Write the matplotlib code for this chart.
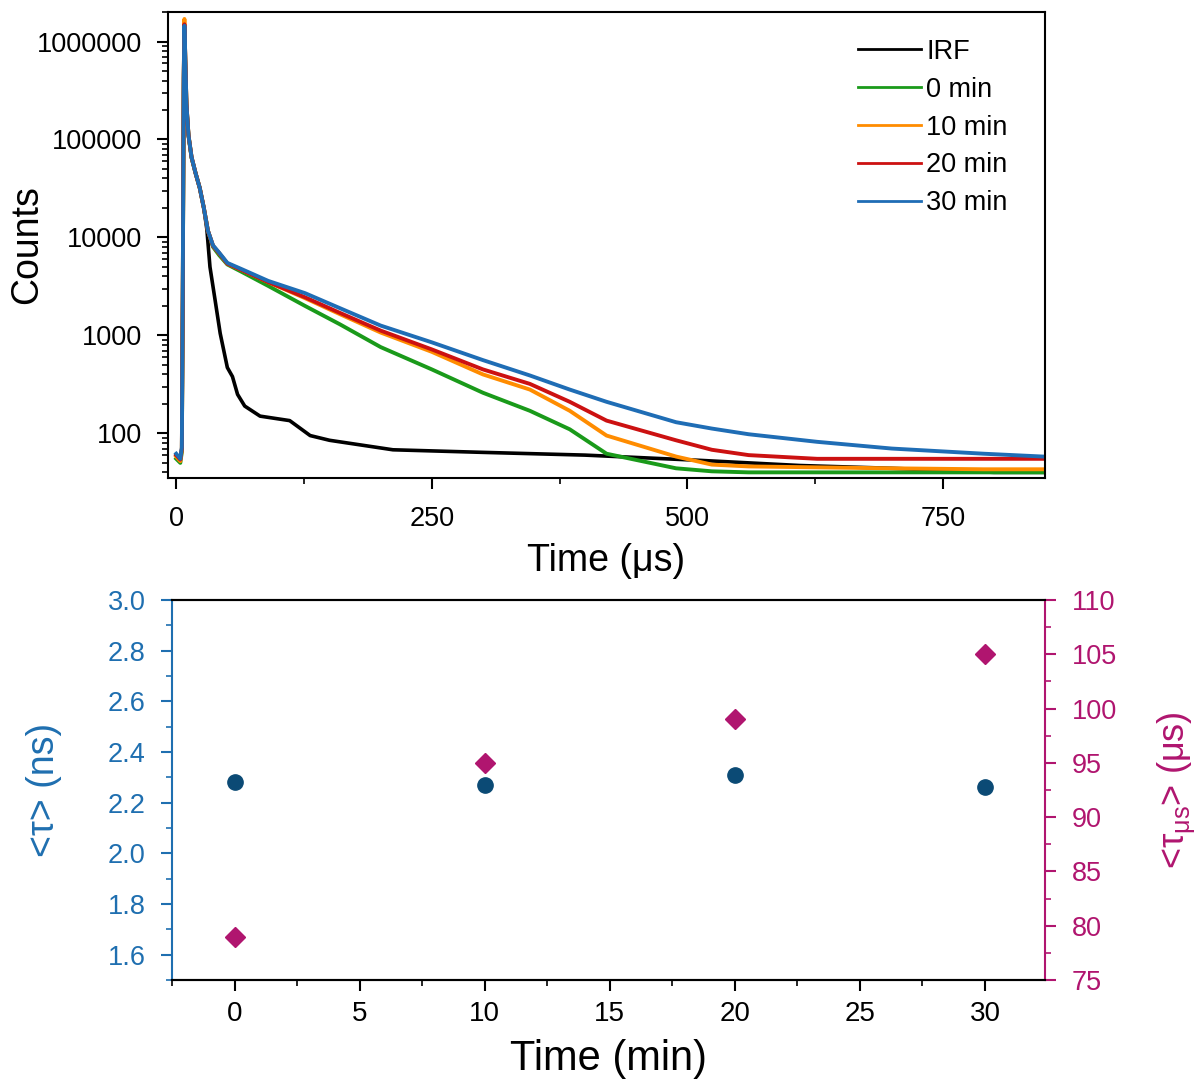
import matplotlib

matplotlib.use("Agg")
import matplotlib.pyplot as plt
from matplotlib import font_manager
from matplotlib.ticker import FixedLocator, LogLocator, MultipleLocator, NullFormatter

# Decay curves, values (time in µs, counts)
t_irf = [0, 4, 5.5, 6.5, 7.3, 8, 8.7, 10, 12, 15, 19, 23, 27, 30, 33, 38, 43, 50, 55, 60,
         67, 82, 111, 131, 150, 212, 300, 400, 513, 610, 700, 800, 848]
c_irf = [60, 55, 70, 3000, 3e5, 1.3e6, 7e5, 2.2e5, 1.1e5, 65000, 45000, 32000, 20000, 12000,
         5000, 2300, 1050, 470, 380, 250, 190, 150, 135, 95, 85, 68, 64, 60, 53, 47, 44, 40, 40]

t_dec = [0, 4, 5.5, 6.5, 7.3, 8, 8.7, 10, 12, 15, 19, 23, 27, 31, 36, 42, 50, 65, 90, 126,
         160, 200, 250, 300, 346, 385, 421, 489, 524, 560, 627, 700, 790, 848]
c_0min = [55, 50, 65, 4500, 3.8e5, 1.4e6, 7.5e5, 2.2e5, 1.1e5, 65000, 45000, 32000, 20000,
          11700, 8000, 6600, 5300, 4400, 3200, 2000, 1300, 760, 450, 260, 170, 110, 62, 44,
          41, 40, 40, 40, 40, 40]
c_10min = [58, 52, 68, 5000, 4.2e5, 1.7e6, 8e5, 2.3e5, 1.1e5, 66000, 45000, 32000, 20000,
           11700, 8200, 6900, 5400, 4600, 3500, 2400, 1650, 1070, 680, 400, 280, 170, 95, 58,
           48, 46, 45, 44, 43, 43]
c_20min = [60, 54, 70, 5000, 4.2e5, 1.5e6, 8e5, 2.3e5, 1.1e5, 66000, 45000, 32000, 20000,
           11700, 8200, 6900, 5400, 4600, 3500, 2450, 1700, 1120, 720, 450, 320, 210, 135, 85,
           68, 60, 55, 55, 55, 55]
c_30min = [62, 55, 72, 5200, 4.3e5, 1.45e6, 8e5, 2.3e5, 1.1e5, 66000, 45000, 32000, 20000,
           11700, 8300, 7000, 5500, 4700, 3600, 2700, 1900, 1260, 850, 560, 390, 280, 210,
           130, 112, 98, 82, 70, 62, 58]

# Average lifetimes vs irradiation time
t_min = [0, 10, 20, 30]
tau_ns = [2.28, 2.27, 2.31, 2.26]
tau_us = [79, 95, 99, 105]

names = {f.name for f in font_manager.fontManager.ttflist}
narrow = "Liberation Sans Narrow" if "Liberation Sans Narrow" in names else "Liberation Sans"

plt.rcParams["font.family"] = ["Liberation Sans", "DejaVu Sans"]
plt.rcParams["mathtext.fontset"] = "custom"
plt.rcParams["mathtext.rm"] = "Liberation Sans"
plt.rcParams["mathtext.it"] = "Liberation Sans:italic"
plt.rcParams["mathtext.default"] = "regular"

blue_ax = "#1f6fb0"
pink_ax = "#b0156f"

fig = plt.figure(figsize=(12.03, 10.84), dpi=100)

# ---- top panel: decay curves ----
ax1 = fig.add_axes([0.1397, 0.559, 0.729, 0.4299])
ax1.plot(t_irf, c_irf, color="black", lw=2.6, label="IRF")
ax1.plot(t_dec, c_0min, color="#1a9a1a", lw=2.8, label="0 min")
ax1.plot(t_dec, c_10min, color="#ff8c00", lw=2.8, label="10 min")
ax1.plot(t_dec, c_20min, color="#cc1111", lw=2.8, label="20 min")
ax1.plot(t_dec, c_30min, color="#1f6db5", lw=2.8, label="30 min")

ax1.set_yscale("log")
ax1.set_xlim(-8, 850)
ax1.set_ylim(35, 2e6)
ax1.yaxis.set_major_locator(FixedLocator([100, 1000, 10000, 100000, 1000000]))
ax1.set_yticklabels(["100", "1000", "10000", "100000", "1000000"])
ax1.yaxis.set_minor_locator(LogLocator(base=10, subs=range(2, 10), numticks=20))
ax1.yaxis.set_minor_formatter(NullFormatter())
ax1.xaxis.set_major_locator(MultipleLocator(250))
ax1.xaxis.set_minor_locator(MultipleLocator(125))
ax1.tick_params(which="major", direction="out", length=8, width=1.5, labelsize=19.5)
ax1.tick_params(which="minor", direction="out", length=4.5, width=1.2)
ax1.tick_params(axis="x", which="major", pad=12)
ax1.tick_params(axis="y", which="major", pad=11)
for s in ax1.spines.values():
    s.set_linewidth(1.5)
ax1.set_xlabel("Time (μs)", fontsize=27, labelpad=8)
ax1.set_ylabel("Counts", fontsize=27)
ax1.yaxis.set_label_coords(-0.14, 0.5)
leg = ax1.legend(loc="upper right", bbox_to_anchor=(0.985, 0.995), frameon=False, fontsize=19.5,
                 handlelength=2.3, handletextpad=0.2, labelspacing=0.44)
for line in leg.get_lines():
    line.set_linewidth(2)

# ---- bottom panel: lifetimes ----
ax2 = fig.add_axes([0.143, 0.0959, 0.7257, 0.3506])
ax3 = ax2.twinx()
ax2.plot(t_min, tau_ns, "o", color="#0b4a75", ms=11, ls="none")
ax3.plot(t_min, tau_us, "D", color=pink_ax, ms=10, ls="none")

ax2.set_xlim(-2.5, 32.4)
ax2.set_ylim(1.5, 3.0)
ax3.set_ylim(75, 110)
ax2.xaxis.set_major_locator(MultipleLocator(5))
ax2.xaxis.set_minor_locator(MultipleLocator(2.5))
ax2.yaxis.set_major_locator(FixedLocator([1.6, 1.8, 2.0, 2.2, 2.4, 2.6, 2.8, 3.0]))
ax2.yaxis.set_minor_locator(MultipleLocator(0.1))
ax3.yaxis.set_major_locator(MultipleLocator(5))
ax3.yaxis.set_minor_locator(MultipleLocator(2.5))

ax2.tick_params(axis="x", which="major", direction="out", length=8, width=1.5, labelsize=20,
                pad=7)
ax2.tick_params(axis="x", which="minor", direction="out", length=4.5, width=1.2)
for lab in ax2.get_xticklabels():
    lab.set_family(narrow)
ax2.tick_params(axis="y", which="major", direction="out", length=8, width=1.5, labelsize=19.5,
                colors=blue_ax, pad=11)
ax2.tick_params(axis="y", which="minor", direction="out", length=4.5, width=1.2, colors=blue_ax)
ax3.tick_params(axis="y", which="major", direction="out", length=8, width=1.5, labelsize=19.5,
                colors=pink_ax, pad=11)
ax3.tick_params(axis="y", which="minor", direction="out", length=4.5, width=1.2, colors=pink_ax)

for s in ax2.spines.values():
    s.set_linewidth(1.5)
for s in ax3.spines.values():
    s.set_linewidth(1.5)
ax2.spines["left"].set_color(blue_ax)
ax3.spines["left"].set_visible(False)
ax3.spines["right"].set_color(pink_ax)
ax2.spines["right"].set_visible(False)

ax2.set_xlabel("Time (min)", fontsize=30, family=narrow, labelpad=9)
ax2.set_ylabel("<τ> (ns)", fontsize=27, color=blue_ax)
ax2.yaxis.set_label_coords(-0.126, 0.5)
ax3.set_ylabel("<τ$_{μs}$> (μs)", fontsize=26, color=pink_ax, rotation=90)
ax3.yaxis.set_label_coords(1.127, 0.5)

fig.savefig("out.png", dpi=100)
